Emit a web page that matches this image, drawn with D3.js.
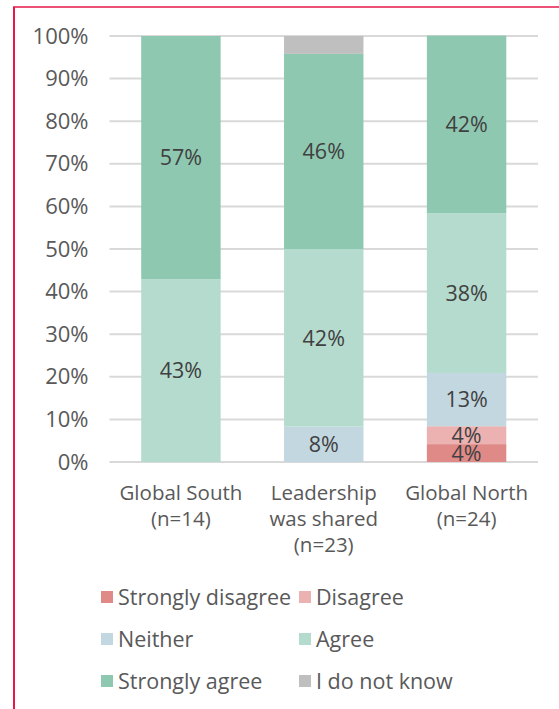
<!DOCTYPE html>
<html>
<head>
<meta charset="utf-8">
<script src="https://cdn.jsdelivr.net/npm/d3@7"></script>
<style>
  body { margin: 0; background: #fff; }
  svg { display: block; font-family: "Open Sans", "Liberation Sans", sans-serif; }
</style>
</head>
<body>
<script>
// chart data
var groups = ["Global South", "Leadership was shared", "Global North"];
var groupLines = [["Global South", "(n=14)"], ["Leadership", "was shared", "(n=23)"], ["Global North", "(n=24)"]];
var answers = ["Strongly disagree", "Disagree", "Neither", "Agree", "Strongly agree", "I do not know"];
var stronglyDisagree = [0, 0, 4.2];
var disagree = [0, 0, 4.2];
var neither = [0, 8.3, 12.5];
var agree = [42.9, 41.7, 37.5];
var stronglyAgree = [57.1, 45.8, 41.7];
var dontKnow = [0, 4.2, 0];
var colors = ["#df8a87", "#ebb2b1", "#c3d7e0", "#b5dbcf", "#8fc8b1", "#bfbfbf"];
var yTicks = [0, 10, 20, 30, 40, 50, 60, 70, 80, 90, 100];

var series = [stronglyDisagree, disagree, neither, agree, stronglyAgree, dontKnow];

var W = 559, H = 709;
var svg = d3.select("body").append("svg").attr("width", W).attr("height", H);

// frame lines (left + top)
svg.append("line").attr("x1", 14).attr("x2", 14).attr("y1", 7).attr("y2", H)
  .attr("stroke", "#e8174a").attr("stroke-width", 2);
svg.append("line").attr("x1", 13).attr("x2", W).attr("y1", 7).attr("y2", 7)
  .attr("stroke", "#e8174a").attr("stroke-width", 1.5);

var plotLeft = 109.5, plotRight = 538, plotTop = 36, plotBottom = 462;

var x = d3.scaleBand().domain(groups).range([plotLeft, plotRight])
  .paddingInner(0.444).paddingOuter(0.222);
var y = d3.scaleLinear().domain([0, 100]).range([plotBottom, plotTop]);

// gridlines
svg.append("g").selectAll("line").data(yTicks).enter().append("line")
  .attr("x1", plotLeft).attr("x2", plotRight)
  .attr("y1", function(d) { return y(d); }).attr("y2", function(d) { return y(d); })
  .attr("stroke", "#d9d9d9").attr("stroke-width", 2);

var yAxis = d3.axisLeft(y).tickValues(yTicks).tickSize(0).tickPadding(0)
  .tickFormat(function(d) { return d + "%"; });
var ya = svg.append("g").attr("transform", "translate(" + (plotLeft - 21) + ",0)").call(yAxis);
ya.select(".domain").remove();
ya.selectAll("text").attr("font-size", 22).attr("fill", "#595959")
  .attr("font-family", "'Open Sans', sans-serif");

// stacked bars
var rows = groups.map(function(g, i) {
  var r = { group: g };
  answers.forEach(function(a, k) { r[a] = series[k][i]; });
  return r;
});
var stack = d3.stack().keys(answers)(rows);

var layers = svg.append("g").selectAll("g").data(stack).enter().append("g")
  .attr("fill", function(d, k) { return colors[k]; });
layers.selectAll("rect").data(function(d) { return d; }).enter().append("rect")
  .attr("x", function(d) { return x(d.data.group); })
  .attr("width", x.bandwidth())
  .attr("y", function(d) { return y(d[1]); })
  .attr("height", function(d) { return y(d[0]) - y(d[1]); });

// value labels (all but "I do not know")
stack.forEach(function(layer, k) {
  if (layer.key === "I do not know") return;
  layer.forEach(function(d, i) {
    var v = series[k][i];
    if (v <= 0) return;
    svg.append("text")
      .attr("x", x(d.data.group) + x.bandwidth() / 2)
      .attr("y", y((d[0] + d[1]) / 2))
      .attr("dy", "0.36em")
      .attr("text-anchor", "middle")
      .attr("font-size", 21.5)
      .attr("fill", "#404040")
      .text(Math.round(v) + "%");
  });
});

// category labels
var xl = svg.append("g");
groups.forEach(function(g, i) {
  var t = xl.append("text").attr("text-anchor", "middle")
    .attr("font-size", 20.5).attr("fill", "#595959");
  groupLines[i].forEach(function(line, j) {
    t.append("tspan").attr("x", x(g) + x.bandwidth() / 2)
      .attr("y", 500 + j * 26).text(line);
  });
});

// legend
var legend = svg.append("g").selectAll("g").data(answers).enter().append("g")
  .attr("transform", function(d, k) {
    return "translate(" + (k % 2 === 0 ? 101 : 299) + "," + (597 + Math.floor(k / 2) * 42) + ")";
  });
legend.append("rect").attr("x", 0).attr("y", -6).attr("width", 12).attr("height", 12)
  .attr("fill", function(d, k) { return colors[k]; });
legend.append("text").attr("x", 17).attr("dy", "0.35em")
  .attr("font-size", 21.5).attr("fill", "#595959")
  .text(function(d) { return d; });
</script>
</body>
</html>
